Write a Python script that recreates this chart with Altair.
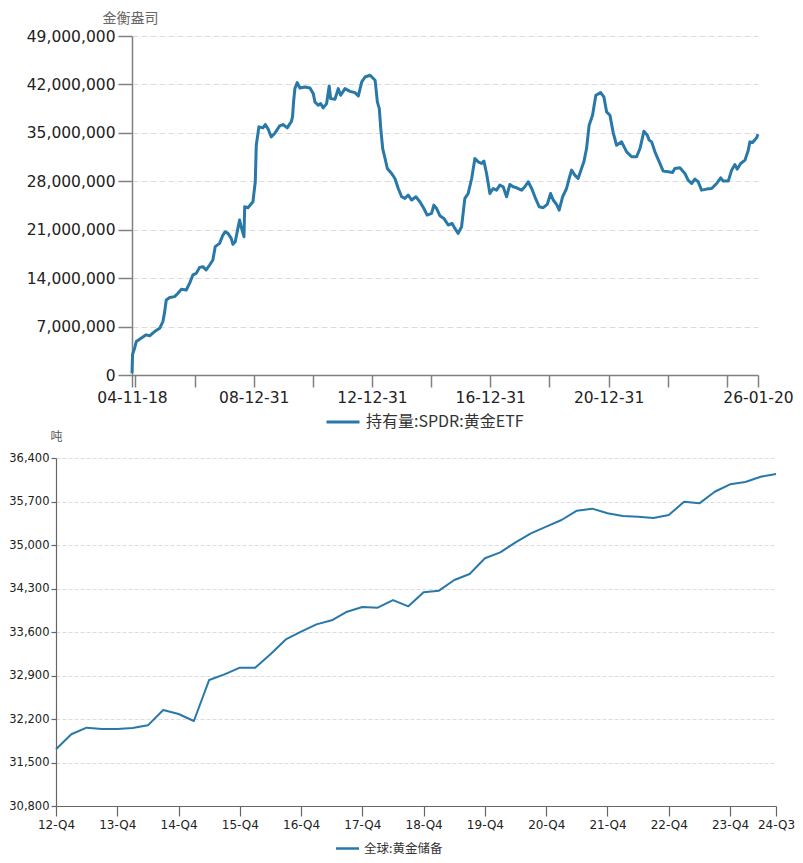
import json
import altair as alt
import pandas as pd

# ---------------- top panel: SPDR gold ETF holdings (troy ounces) ----------------
spdr_dates = [
    "2004-11-18", "2004-11-25", "2004-12-20",
    "2005-01-10", "2005-03-10", "2005-05-12", "2005-06-24", "2005-08-24", "2005-10-26", "2005-12-05", "2005-12-27",
    "2006-01-15", "2006-02-27", "2006-04-28", "2006-06-09", "2006-07-19", "2006-09-19", "2006-10-30", "2006-12-10",
    "2007-01-21", "2007-03-03", "2007-04-13", "2007-05-23", "2007-07-05", "2007-08-14", "2007-09-12", "2007-11-05", "2007-12-16",
    "2008-01-14", "2008-02-16", "2008-03-28", "2008-04-18", "2008-05-16", "2008-06-18", "2008-07-09", "2008-07-29",
    "2008-09-01", "2008-09-10", "2008-10-20", "2008-12-21",
    "2009-01-19", "2009-01-31", "2009-03-05", "2009-04-23", "2009-05-22", "2009-06-24", "2009-08-04", "2009-09-15", "2009-11-16", "2009-12-27",
    "2010-02-18", "2010-03-23", "2010-04-08", "2010-04-24", "2010-05-07", "2010-05-23", "2010-06-21", "2010-07-24", "2010-09-24", "2010-11-25",
    "2011-01-05", "2011-01-26", "2011-03-07", "2011-04-06", "2011-05-08", "2011-06-19", "2011-07-21", "2011-08-08", "2011-09-30", "2011-11-10", "2011-12-10",
    "2012-02-01", "2012-04-03", "2012-06-04", "2012-07-15", "2012-08-26", "2012-10-06", "2012-12-07",
    "2013-02-07", "2013-03-07", "2013-03-31", "2013-04-18", "2013-05-12", "2013-06-10", "2013-07-08", "2013-08-30", "2013-10-10", "2013-11-20",
    "2014-01-01", "2014-02-10", "2014-03-23", "2014-05-05", "2014-06-26", "2014-08-14", "2014-10-03", "2014-11-12",
    "2015-01-06", "2015-02-03", "2015-03-08", "2015-04-18", "2015-06-07", "2015-07-30", "2015-09-17", "2015-10-20", "2015-11-30",
    "2016-01-11", "2016-02-21", "2016-04-02", "2016-05-15", "2016-06-24", "2016-08-04", "2016-09-15", "2016-10-13", "2016-11-15", "2016-12-26",
    "2017-02-05", "2017-03-18", "2017-04-28", "2017-06-08", "2017-07-20", "2017-08-30", "2017-10-10", "2017-11-21",
    "2018-01-22", "2018-03-03", "2018-04-13", "2018-05-26", "2018-07-05", "2018-08-27", "2018-10-16", "2018-12-04",
    "2019-01-15", "2019-02-16", "2019-03-30", "2019-05-01", "2019-06-12", "2019-07-31", "2019-09-01", "2019-10-01", "2019-11-10", "2019-12-21",
    "2020-02-01", "2020-03-01", "2020-04-03", "2020-05-05", "2020-06-16", "2020-07-27", "2020-09-24", "2020-11-03", "2020-12-07",
    "2021-01-17", "2021-02-27", "2021-04-09", "2021-06-10", "2021-08-11", "2021-10-12", "2021-12-13",
    "2022-01-23", "2022-03-13", "2022-04-23", "2022-05-17", "2022-06-16", "2022-07-27", "2022-09-18", "2022-11-06",
    "2023-01-07", "2023-03-02", "2023-03-30", "2023-05-31", "2023-08-01", "2023-09-10", "2023-10-23", "2023-12-02",
    "2024-01-12", "2024-02-23", "2024-04-25", "2024-06-26", "2024-08-27", "2024-10-16", "2024-11-17",
    "2025-01-18", "2025-02-28", "2025-04-10", "2025-05-08", "2025-06-20", "2025-08-12", "2025-09-22", "2025-10-12", "2025-11-14",
    "2026-01-03", "2026-01-20",
]
spdr_million_oz = [
    0.26, 2.96, 3.87,
    4.83, 5.31, 5.80, 5.66, 6.28, 6.75, 7.72, 9.16,
    10.85, 11.19, 11.33, 11.81, 12.38, 12.29, 13.25, 14.46,
    14.69, 15.56, 15.66, 15.18, 15.90, 16.63, 18.55, 19.02, 20.23,
    20.71, 20.47, 19.74, 18.88, 19.27, 21.19, 22.40, 21.43, 19.99, 24.32, 24.18, 25.04,
    27.93, 33.22, 35.87, 35.72, 36.20, 35.62, 34.42, 34.90, 36.00, 36.20,
    35.72, 36.34, 36.59, 37.31, 39.47, 41.39, 42.26, 41.49, 41.64, 41.49,
    40.67, 39.47, 38.99, 39.23, 38.61, 39.23, 41.78, 39.95, 39.86, 41.39, 40.44,
    41.39, 41.00, 40.82, 40.34, 42.36, 43.08, 43.33,
    42.61, 39.47, 38.51, 35.62, 32.73, 31.29, 29.85, 29.13, 28.40, 26.96,
    25.76, 25.52, 26.01, 25.29, 25.76, 25.04, 24.07, 23.12,
    23.35, 24.56, 24.07, 23.02, 22.63, 21.68, 21.91, 21.19, 20.47,
    21.43, 25.52, 26.24, 28.40, 31.29, 30.81, 30.57, 30.91, 29.13, 26.24,
    26.96, 26.72, 27.45, 27.21, 25.76, 27.54, 27.21, 27.06,
    26.72, 27.21, 27.93, 26.96, 25.76, 24.32, 24.18, 24.65,
    26.24, 25.29, 24.65, 23.84, 25.76, 26.96, 28.40, 29.61, 28.89, 28.40,
    29.85, 30.81, 32.73, 36.11, 37.55, 40.44, 40.82, 40.20, 38.03,
    37.55, 35.00, 33.20, 33.70, 32.26, 31.54, 31.54,
    32.73, 35.24, 34.67, 33.95, 33.70, 32.26, 30.81, 29.47,
    29.37, 29.27, 29.85, 29.95, 29.13, 28.17, 27.68, 28.32,
    27.93, 26.72, 26.87, 26.96, 27.68, 28.50, 28.03,
    28.03, 29.61, 30.42, 29.76, 30.57, 31.06, 32.50, 33.70, 33.60,
    34.28, 34.80,
]
top_series = "持有量:SPDR:黄金ETF"
top_unit = "金衡盎司"
top_tick_dates = ["2004-11-18", "2004-12-31", "2006-12-31", "2008-12-31", "2010-12-31", "2012-12-31",
                  "2014-12-31", "2016-12-31", "2018-12-31", "2020-12-31", "2022-12-31", "2024-12-31", "2026-01-20"]
top_tick_labels = ["04-11-18", "08-12-31", "12-12-31", "16-12-31", "20-12-31", "26-01-20"]
top_y_ticks = [0, 7000000, 14000000, 21000000, 28000000, 35000000, 42000000, 49000000]

# ---------------- bottom panel: global gold reserves (tonnes) ----------------
quarters = [
    "12-Q4",
    "13-Q1", "13-Q2", "13-Q3", "13-Q4",
    "14-Q1", "14-Q2", "14-Q3", "14-Q4",
    "15-Q1", "15-Q2", "15-Q3", "15-Q4",
    "16-Q1", "16-Q2", "16-Q3", "16-Q4",
    "17-Q1", "17-Q2", "17-Q3", "17-Q4",
    "18-Q1", "18-Q2", "18-Q3", "18-Q4",
    "19-Q1", "19-Q2", "19-Q3", "19-Q4",
    "20-Q1", "20-Q2", "20-Q3", "20-Q4",
    "21-Q1", "21-Q2", "21-Q3", "21-Q4",
    "22-Q1", "22-Q2", "22-Q3", "22-Q4",
    "23-Q1", "23-Q2", "23-Q3", "23-Q4",
    "24-Q1", "24-Q2", "24-Q3",
]
reserves_t = [
    31712,
    31954, 32060, 32039, 32039,
    32055, 32098, 32345, 32280,
    32168, 32828, 32919, 33026,
    33026, 33241, 33480, 33605,
    33723, 33788, 33927, 34002,
    33991, 34114, 34013, 34238,
    34265, 34437, 34533, 34786,
    34882, 35043, 35188, 35295,
    35402, 35552, 35585, 35510,
    35466, 35455, 35434, 35482,
    35697, 35670, 35857, 35976,
    36013, 36099, 36142,
]
bottom_series = "全球:黄金储备"
bottom_unit = "吨"
bottom_x_labels = ["12-Q4", "13-Q4", "14-Q4", "15-Q4", "16-Q4", "17-Q4", "18-Q4",
                   "19-Q4", "20-Q4", "21-Q4", "22-Q4", "23-Q4", "24-Q3"]
bottom_y_ticks = [30800, 31500, 32200, 32900, 33600, 34300, 35000, 35700, 36400]

# ---------------- styling ----------------
LINE = "#2878a8"
AXIS = "#808080"
LABEL = "#222222"
GRID = "#dddddd"
NUM_FONT = "DejaVu Sans"
CJK_FONT = "Noto Sans CJK SC"
TOP_SHIFT = 76     # top plot starts this far right of the bottom plot
TOP_W = 702        # shared left edge -> right end of top x axis


def to_ms(d):
    return int(pd.Timestamp(d, tz="UTC").value // 10**6)


top_df = pd.DataFrame({
    "date": spdr_dates,
    "oz": [v * 1_000_000 for v in spdr_million_oz],
    "series": top_series,
})
bot_df = pd.DataFrame({"quarter": quarters, "reserve": reserves_t, "series": bottom_series})

tick_ms = [to_ms(d) for d in top_tick_dates]
fmt = "utcFormat(datum.value, '%y-%m-%d')"
label_expr = f"indexof({json.dumps(top_tick_labels)}, {fmt}) >= 0 ? {fmt} : ''"

top = alt.Chart(top_df).mark_line(strokeWidth=3, strokeJoin="round").encode(
    x=alt.X(
        "date:T",
        scale=alt.Scale(type="utc", domain=[tick_ms[0], tick_ms[-1]], nice=False,
                        range=[TOP_SHIFT, TOP_W]),
        axis=alt.Axis(
            values=tick_ms, labelExpr=label_expr, title=None, grid=False,
            tickSize=12, tickColor=AXIS, tickWidth=1.5, domainColor=AXIS, domainWidth=1.5,
            labelPadding=3, labelFont=NUM_FONT, labelFontSize=15.5, labelColor=LABEL,
            labelOverlap=False, labelFlush=False,
        ),
    ),
    y=alt.Y(
        "oz:Q",
        scale=alt.Scale(domain=[0, 49000000], nice=False),
        axis=alt.Axis(
            values=top_y_ticks, format=",.0f", title=top_unit, titleAngle=0,
            titleX=-2, titleY=-14, titleAlign="center", titleBaseline="alphabetic",
            titleFont=CJK_FONT, titleFontSize=14, titleFontWeight="normal", titleColor="#666666",
            grid=True, gridDash=[6, 3], gridColor=GRID, gridWidth=1,
            tickSize=14, tickColor=AXIS, tickWidth=1.5, domainColor=AXIS, domainWidth=1.5,
            labelPadding=3, labelFont=NUM_FONT, labelFontSize=15.5, labelColor=LABEL,
            offset=-TOP_SHIFT,
        ),
    ),
    color=alt.Color(
        "series:N",
        scale=alt.Scale(range=[LINE]),
        legend=alt.Legend(
            orient="none", legendX=269, legendY=368, title=None, padding=0,
            symbolType="stroke", symbolSize=1089, symbolStrokeWidth=3,
            labelFont=CJK_FONT, labelFontSize=16, labelColor="#333333", labelOffset=5,
        ),
    ),
).properties(width=TOP_W, height=339)

bottom = alt.Chart(bot_df).mark_line(strokeWidth=2, strokeJoin="round").encode(
    x=alt.X(
        "quarter:O",
        sort=quarters,
        scale=alt.Scale(type="point", padding=0),
        axis=alt.Axis(
            values=bottom_x_labels, title=None, labelAngle=0, grid=False,
            tickSize=10, tickColor="#666666", tickWidth=1.2, domainColor="#666666", domainWidth=1.2,
            labelPadding=3, labelFont=NUM_FONT, labelFontSize=12, labelColor=LABEL,
        ),
    ),
    y=alt.Y(
        "reserve:Q",
        scale=alt.Scale(domain=[30800, 36400], nice=False, zero=False),
        axis=alt.Axis(
            values=bottom_y_ticks, format=",.0f", title=bottom_unit, titleAngle=0,
            titleX=0, titleY=-18, titleAlign="center", titleBaseline="alphabetic",
            titleFont=CJK_FONT, titleFontSize=12, titleFontWeight="normal", titleColor="#555555",
            grid=True, gridDash=[4, 2], gridColor=GRID, gridWidth=1,
            tickSize=5, tickColor="#666666", tickWidth=1.2, domainColor="#666666", domainWidth=1.2,
            labelPadding=2, labelFont=NUM_FONT, labelFontSize=11.5, labelColor=LABEL,
            minExtent=48,
        ),
    ),
    color=alt.Color(
        "series:N",
        scale=alt.Scale(range=[LINE]),
        legend=alt.Legend(
            orient="none", legendX=285, legendY=384, title=None, padding=0,
            symbolType="M-2.3,0L2.3,0", symbolSize=100, symbolStrokeWidth=2.5,
            labelFont=CJK_FONT, labelFontSize=12.5, labelColor="#333333", labelOffset=10,
        ),
    ),
).properties(width=720, height=348)

chart = (
    alt.vconcat(top, bottom, spacing=0)
    .resolve_scale(color="independent")
    .resolve_legend(color="independent")
    .properties(padding={"left": 0, "top": 3, "right": 0, "bottom": 0}, background="white")
    .configure_view(stroke=None)
)

chart.save("out.html", embed_options={"renderer": "svg", "actions": False})
